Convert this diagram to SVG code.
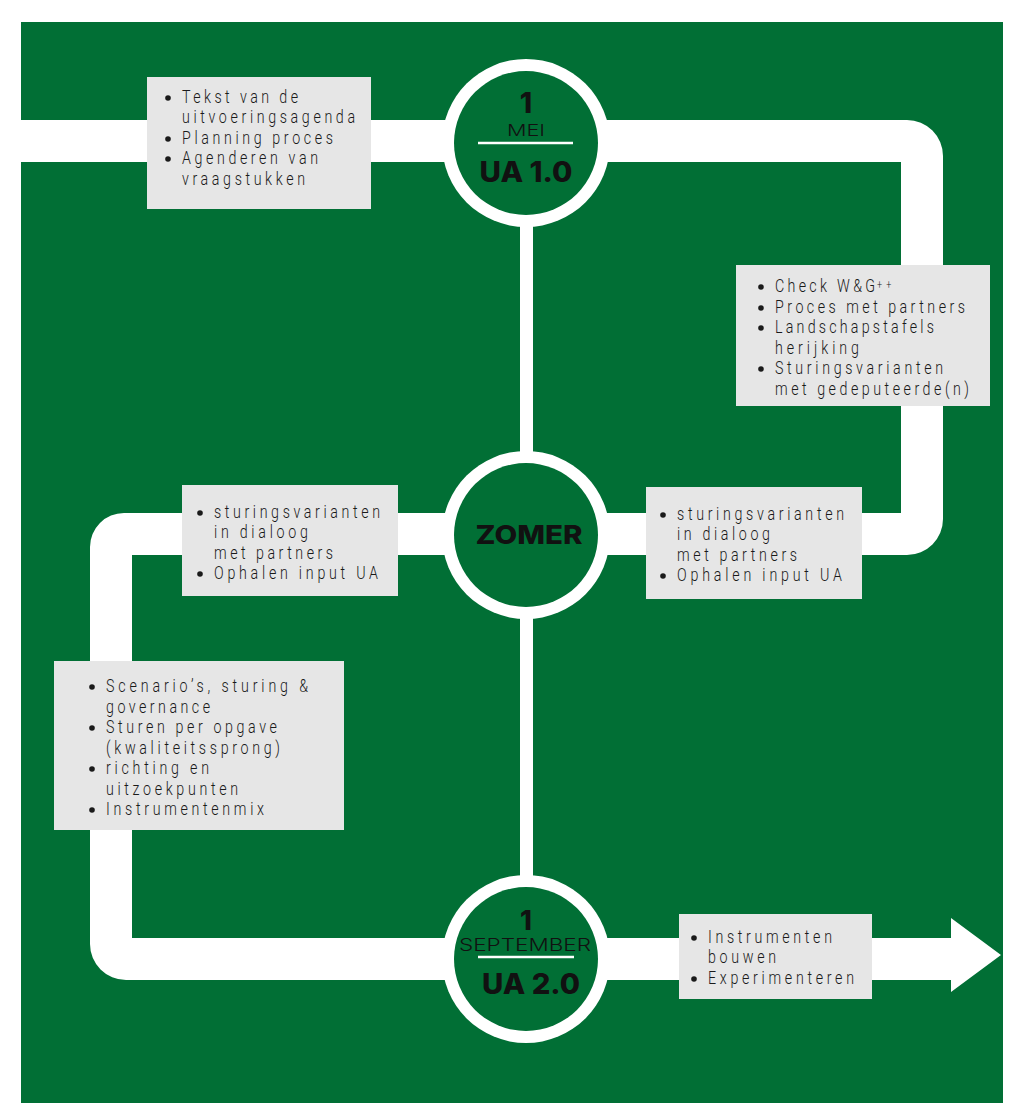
<svg xmlns="http://www.w3.org/2000/svg" width="1024" height="1103" viewBox="0 0 1024 1103">
<style>
.bg{fill:#016f35}
.band{fill:#ffffff}
.box{fill:#e6e6e6}
.t{font-family:"Roboto","Liberation Sans",Arial,sans-serif;font-weight:300;font-size:19px;fill:#1a1a1a}
.b{fill:#1a1a1a}
.ring{fill:#ffffff}
.core{fill:#016f35}
.big{font-family:"Inter","Noto Sans",sans-serif;font-weight:800;fill:#111;text-anchor:middle}
.thin{font-family:"Inter","Noto Sans",sans-serif;font-weight:300;fill:#111;text-anchor:middle}
.rule{stroke:#ffffff;stroke-width:2.5}
</style>
<rect x="0" y="0" width="1024" height="1103" fill="#ffffff"/>
<rect class="bg" x="21" y="22" width="982" height="1081"/>
<g id="connectors">
<path class="band" d="M21 120 H907 A36 36 0 0 1 943 156 V519 A36 36 0 0 1 907 555 H132 V938 H951 V918 L1001 955 L951 992 V980 H126 A36 36 0 0 1 90 944 V547 A34 34 0 0 1 124 513 H901 V162 H21 Z"/>
<rect class="band" x="520" y="143" width="13" height="816"/>
</g>
<g id="node-mei">
<circle class="ring" cx="526" cy="143" r="84"/>
<circle class="core" cx="526" cy="143" r="72"/>
<text class="big" x="526" y="113" font-size="28">1</text>
<text class="thin" x="526" y="136" font-size="16" textLength="38" lengthAdjust="spacingAndGlyphs">MEI</text>
<line class="rule" x1="478" y1="143" x2="573" y2="143"/>
<text class="big" x="526" y="182" font-size="28" textLength="93" lengthAdjust="spacingAndGlyphs">UA 1.0</text>
</g>
<g id="node-zomer">
<circle class="ring" cx="526" cy="535" r="84"/>
<circle class="core" cx="526" cy="535" r="72"/>
<text class="big" x="529" y="544" font-size="26" textLength="107" lengthAdjust="spacingAndGlyphs">ZOMER</text>
</g>
<g id="node-september">
<circle class="ring" cx="526" cy="959" r="84"/>
<circle class="core" cx="526" cy="959" r="72"/>
<text class="big" x="526" y="930" font-size="27">1</text>
<text class="thin" x="525" y="951" font-size="17" textLength="132" lengthAdjust="spacingAndGlyphs">SEPTEMBER</text>
<line class="rule" x1="478" y1="957" x2="574" y2="957"/>
<text class="big" x="531" y="994" font-size="28" textLength="98" lengthAdjust="spacingAndGlyphs">UA 2.0</text>
</g>
<g id="box-start">
<rect class="box" x="147" y="77" width="224" height="132"/>
<circle class="b" cx="168" cy="98" r="2.8"/>
<circle class="b" cx="168" cy="139" r="2.8"/>
<circle class="b" cx="168" cy="159" r="2.8"/>
<g transform="matrix(0.75 0 0 1 45.5 0)">
<text class="t" x="182" y="103" textLength="154.7" lengthAdjust="spacing">Tekst van de</text>
<text class="t" x="182" y="123" textLength="230.7" lengthAdjust="spacing">uitvoeringsagenda</text>
<text class="t" x="182" y="144" textLength="201.3" lengthAdjust="spacing">Planning proces</text>
<text class="t" x="182" y="164" textLength="181.3" lengthAdjust="spacing">Agenderen van</text>
<text class="t" x="182" y="185" textLength="164" lengthAdjust="spacing">vraagstukken</text>
</g>
</g>
<g id="box-right">
<rect class="box" x="736" y="265" width="254" height="141"/>
<circle class="b" cx="761" cy="287" r="2.8"/>
<circle class="b" cx="761" cy="308" r="2.8"/>
<circle class="b" cx="761" cy="328" r="2.8"/>
<circle class="b" cx="761" cy="369" r="2.8"/>
<g transform="matrix(0.75 0 0 1 193.75 0)">
<text class="t" x="775" y="292" textLength="133.3" lengthAdjust="spacing">Check W&amp;G</text>
<text class="t" x="911" y="289" style="font-size:12px" textLength="19" lengthAdjust="spacing">++</text>
<text class="t" x="775" y="313" textLength="253.3" lengthAdjust="spacing">Proces met partners</text>
<text class="t" x="775" y="333" textLength="212" lengthAdjust="spacing">Landschapstafels</text>
<text class="t" x="775" y="354" textLength="112" lengthAdjust="spacing">herijking</text>
<text class="t" x="775" y="374" textLength="224" lengthAdjust="spacing">Sturingsvarianten</text>
<text class="t" x="775" y="395" textLength="258.7" lengthAdjust="spacing">met gedeputeerde(n)</text>
</g>
</g>
<g id="box-mid-left">
<rect class="box" x="182" y="485" width="216" height="111"/>
<circle class="b" cx="200" cy="513" r="2.8"/>
<circle class="b" cx="200" cy="574" r="2.8"/>
<g transform="matrix(0.75 0 0 1 53.5 0)">
<text class="t" x="214" y="518" textLength="221.3" lengthAdjust="spacing">sturingsvarianten</text>
<text class="t" x="214" y="538" textLength="125.3" lengthAdjust="spacing">in dialoog</text>
<text class="t" x="214" y="559" textLength="158.7" lengthAdjust="spacing">met partners</text>
<text class="t" x="214" y="579" textLength="218.7" lengthAdjust="spacing">Ophalen input UA</text>
</g>
</g>
<g id="box-mid-right">
<rect class="box" x="646" y="487" width="216" height="112"/>
<circle class="b" cx="663" cy="515" r="2.8"/>
<circle class="b" cx="663" cy="576" r="2.8"/>
<g transform="matrix(0.75 0 0 1 169.25 0)">
<text class="t" x="677" y="520" textLength="222.7" lengthAdjust="spacing">sturingsvarianten</text>
<text class="t" x="677" y="540" textLength="124" lengthAdjust="spacing">in dialoog</text>
<text class="t" x="677" y="561" textLength="160" lengthAdjust="spacing">met partners</text>
<text class="t" x="677" y="581" textLength="220" lengthAdjust="spacing">Ophalen input UA</text>
</g>
</g>
<g id="box-left">
<rect class="box" x="54" y="661" width="290" height="169"/>
<circle class="b" cx="92" cy="687" r="2.8"/>
<circle class="b" cx="92" cy="728" r="2.8"/>
<circle class="b" cx="92" cy="769" r="2.8"/>
<circle class="b" cx="92" cy="810" r="2.8"/>
<g transform="matrix(0.75 0 0 1 26.5 0)">
<text class="t" x="106" y="692" textLength="269.3" lengthAdjust="spacing">Scenario’s, sturing &amp;</text>
<text class="t" x="106" y="713" textLength="138.7" lengthAdjust="spacing">governance</text>
<text class="t" x="106" y="733" textLength="228" lengthAdjust="spacing">Sturen per opgave</text>
<text class="t" x="106" y="754" textLength="232" lengthAdjust="spacing">(kwaliteitssprong)</text>
<text class="t" x="106" y="774" textLength="137.3" lengthAdjust="spacing">richting en</text>
<text class="t" x="106" y="795" textLength="176" lengthAdjust="spacing">uitzoekpunten</text>
<text class="t" x="106" y="815" textLength="210.7" lengthAdjust="spacing">Instrumentenmix</text>
</g>
</g>
<g id="box-end">
<rect class="box" x="679" y="914" width="193" height="85"/>
<circle class="b" cx="694" cy="938" r="2.8"/>
<circle class="b" cx="694" cy="979" r="2.8"/>
<g transform="matrix(0.75 0 0 1 177 0)">
<text class="t" x="708" y="943" textLength="165.3" lengthAdjust="spacing">Instrumenten</text>
<text class="t" x="708" y="963" textLength="90.7" lengthAdjust="spacing">bouwen</text>
<text class="t" x="708" y="984" textLength="194.7" lengthAdjust="spacing">Experimenteren</text>
</g>
</g>
</svg>
